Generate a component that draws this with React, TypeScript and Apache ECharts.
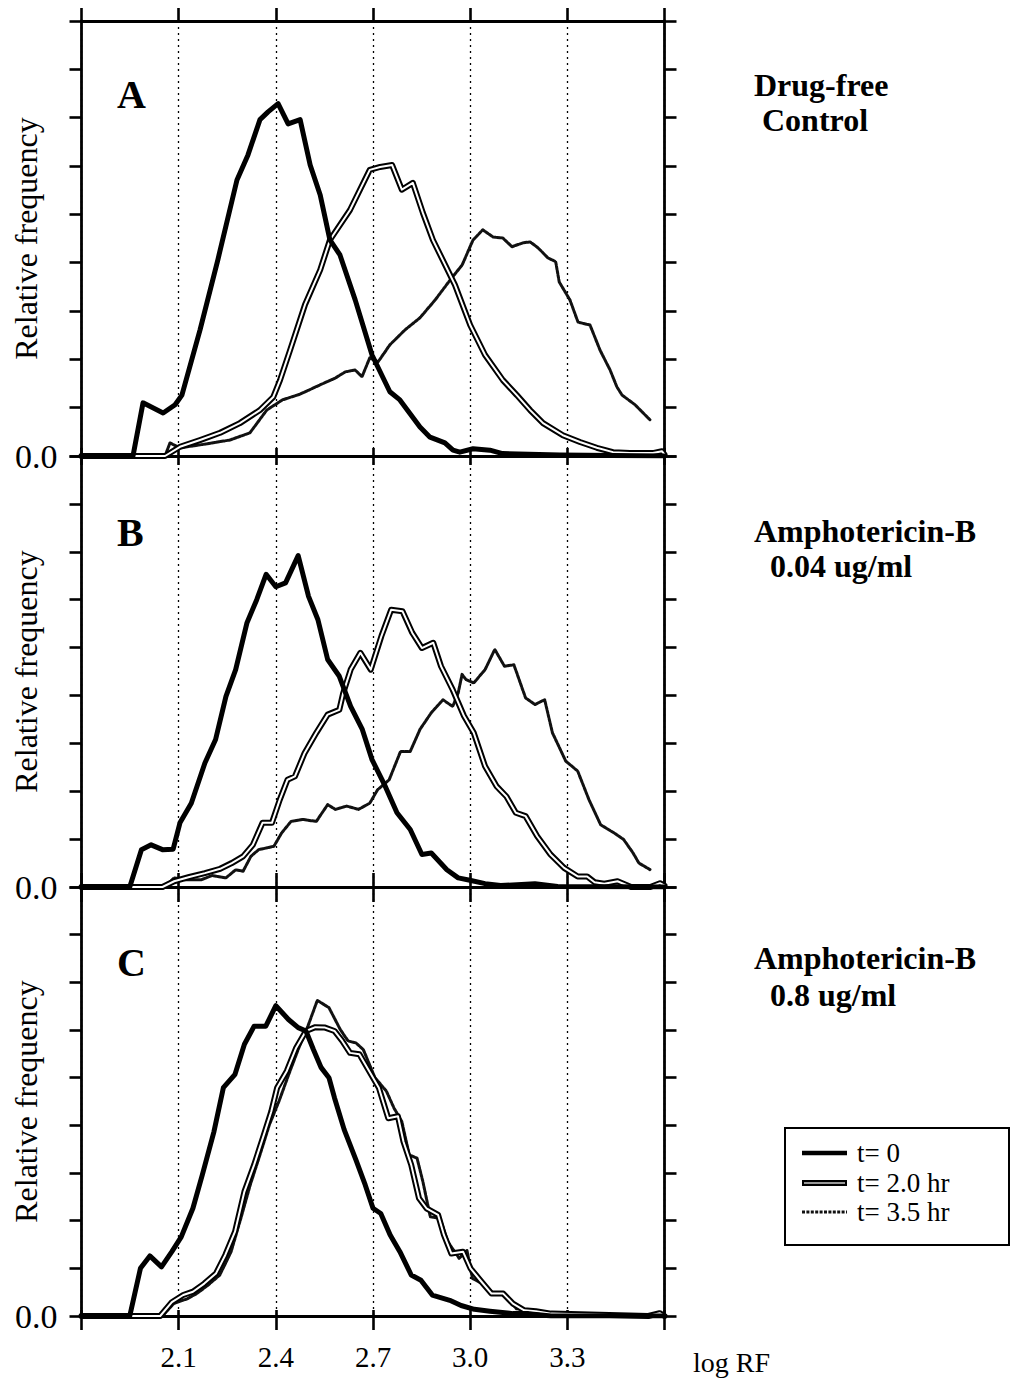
import React, { useEffect, useRef } from "react";
import * as echarts from "echarts";

// ---------- data (x = log RF, y = relative frequency in tick units) ----------
const X_LABELS = ["2.1", "2.4", "2.7", "3.0", "3.3"];
const PANEL_LETTERS = ["A", "B", "C"];
const PANEL_NOTES = [
  ["Drug-free", " Control"],
  ["Amphotericin-B", "  0.04 ug/ml"],
  ["Amphotericin-B", "  0.8 ug/ml"],
];
const LEGEND_NAMES = ["t= 0", "t= 2.0 hr", "t= 3.5 hr"];

const A_T0 = [[1.8,0],[1.959,0],[1.99,1.10],[2.052,0.89],[2.089,1.06],[2.11,1.26],[2.166,2.61],[2.221,4.06],[2.28,5.71],[2.314,6.23],[2.351,6.96],[2.376,7.12],[2.407,7.29],[2.438,6.87],[2.475,6.96],[2.506,6.02],[2.537,5.40],[2.567,4.47],[2.598,4.16],[2.645,3.23],[2.697,2.09],[2.752,1.33],[2.783,1.16],[2.845,0.60],[2.876,0.39],[2.922,0.27],[2.947,0.12],[2.968,0.08],[3.009,0.15],[3.061,0.12],[3.10,0.05],[3.277,0.02],[3.6,0]];
const A_T2 = [[1.8,0],[2.058,0],[2.104,0.19],[2.166,0.33],[2.228,0.48],[2.289,0.68],[2.351,0.95],[2.392,1.22],[2.413,1.57],[2.444,2.19],[2.49,3.13],[2.537,3.85],[2.567,4.47],[2.629,5.09],[2.69,5.92],[2.722,5.98],[2.759,6.02],[2.789,5.51],[2.823,5.65],[2.854,5.03],[2.885,4.47],[2.953,3.54],[3.0,2.71],[3.046,2.09],[3.101,1.57],[3.144,1.26],[3.185,0.95],[3.225,0.68],[3.286,0.43],[3.339,0.29],[3.391,0.17],[3.441,0.08],[3.493,0.06],[3.564,0.06],[3.592,0.1],[3.6,0.03]];
const A_T35 = [[1.8,0],[2.058,0],[2.073,0.27],[2.104,0.17],[2.166,0.23],[2.258,0.33],[2.32,0.48],[2.372,0.95],[2.42,1.16],[2.475,1.28],[2.536,1.47],[2.583,1.61],[2.614,1.74],[2.645,1.78],[2.666,1.64],[2.69,2.03],[2.716,1.95],[2.752,2.30],[2.799,2.61],[2.845,2.86],[2.892,3.23],[2.938,3.64],[2.975,3.95],[3.009,4.47],[3.039,4.68],[3.071,4.53],[3.101,4.51],[3.129,4.33],[3.163,4.41],[3.185,4.43],[3.209,4.31],[3.24,4.10],[3.264,4.02],[3.275,3.6],[3.308,3.23],[3.333,2.77],[3.37,2.71],[3.401,2.19],[3.432,1.78],[3.453,1.43],[3.469,1.26],[3.509,1.06],[3.555,0.75]];

const B_T0 = [[1.8,0],[1.949,0],[1.985,0.78],[2.015,0.88],[2.05,0.78],[2.083,0.79],[2.104,1.34],[2.139,1.75],[2.181,2.59],[2.214,3.08],[2.246,3.98],[2.276,4.54],[2.311,5.52],[2.341,6.0],[2.37,6.53],[2.4,6.27],[2.43,6.35],[2.469,6.92],[2.501,6.07],[2.53,5.58],[2.56,4.75],[2.596,4.40],[2.631,3.77],[2.667,3.29],[2.697,2.66],[2.738,2.10],[2.774,1.55],[2.815,1.20],[2.851,0.68],[2.88,0.71],[2.928,0.36],[2.963,0.19],[2.999,0.14],[3.046,0.07],[3.094,0.03],[3.2,0.07],[3.27,0.01],[3.6,0]];
const B_T2 = [[1.8,0],[2.05,0],[2.086,0.12],[2.133,0.21],[2.181,0.29],[2.228,0.38],[2.264,0.50],[2.299,0.64],[2.329,0.88],[2.359,1.34],[2.388,1.34],[2.412,1.82],[2.436,2.24],[2.459,2.31],[2.489,2.80],[2.525,3.22],[2.56,3.60],[2.596,3.70],[2.608,4.05],[2.631,4.54],[2.661,4.89],[2.693,4.54],[2.726,5.24],[2.756,5.79],[2.791,5.76],[2.821,5.31],[2.851,4.99],[2.886,5.10],[2.91,4.61],[2.946,4.12],[2.981,3.57],[3.011,3.22],[3.046,2.52],[3.082,2.10],[3.112,1.89],[3.141,1.55],[3.171,1.48],[3.207,1.06],[3.248,0.68],[3.29,0.40],[3.332,0.22],[3.361,0.22],[3.384,0.10],[3.414,0.07],[3.455,0.12],[3.497,0],[3.556,0],[3.586,0.08],[3.6,0.03]];
const B_T35 = [[1.8,0],[2.056,0],[2.086,0.19],[2.121,0.15],[2.169,0.15],[2.204,0.24],[2.246,0.19],[2.276,0.36],[2.299,0.33],[2.323,0.64],[2.347,0.78],[2.394,0.85],[2.418,1.13],[2.447,1.37],[2.483,1.41],[2.525,1.37],[2.56,1.72],[2.584,1.62],[2.619,1.69],[2.655,1.62],[2.69,1.75],[2.714,2.03],[2.75,2.24],[2.785,2.83],[2.815,2.83],[2.845,3.29],[2.88,3.64],[2.916,3.91],[2.946,3.77],[2.963,4.05],[2.975,4.44],[2.987,4.33],[3.011,4.26],[3.046,4.54],[3.076,4.96],[3.106,4.61],[3.135,4.64],[3.171,3.95],[3.2,3.81],[3.23,3.91],[3.254,3.22],[3.295,2.63],[3.332,2.42],[3.367,1.82],[3.403,1.30],[3.444,1.13],[3.474,0.99],[3.503,0.71],[3.521,0.50],[3.556,0.36]];

const C_T0 = [[1.8,0],[1.949,0],[1.982,1.0],[2.011,1.26],[2.047,1.03],[2.079,1.35],[2.108,1.66],[2.144,2.26],[2.173,2.96],[2.209,3.87],[2.238,4.79],[2.274,5.07],[2.303,5.70],[2.333,6.08],[2.369,6.08],[2.4,6.51],[2.439,6.22],[2.469,6.05],[2.493,5.98],[2.516,5.59],[2.54,5.21],[2.564,5.0],[2.581,4.58],[2.611,3.91],[2.647,3.28],[2.676,2.75],[2.7,2.26],[2.724,2.15],[2.753,1.70],[2.783,1.35],[2.818,0.86],[2.848,0.75],[2.883,0.44],[2.937,0.33],[2.972,0.22],[3.013,0.14],[3.061,0.10],[3.132,0.05],[3.18,0.05],[3.25,0],[3.6,0]];
const C_T2 = [[1.8,0],[2.043,0],[2.079,0.29],[2.114,0.44],[2.144,0.51],[2.179,0.68],[2.215,0.89],[2.244,1.28],[2.274,1.77],[2.303,2.61],[2.333,3.17],[2.363,3.80],[2.386,4.29],[2.404,4.79],[2.434,5.14],[2.463,5.63],[2.493,5.98],[2.522,6.06],[2.552,6.05],[2.581,5.98],[2.605,5.77],[2.629,5.52],[2.658,5.49],[2.688,5.14],[2.718,4.79],[2.747,4.15],[2.777,4.19],[2.794,3.66],[2.818,3.17],[2.842,2.47],[2.865,2.26],[2.901,2.12],[2.919,1.70],[2.942,1.31],[2.978,1.35],[3.001,1.0],[3.031,0.75],[3.066,0.47],[3.102,0.47],[3.132,0.26],[3.167,0.12],[3.203,0.10],[3.25,0.05],[3.55,0],[3.585,0.06],[3.6,0]];
const C_T35 = [[1.8,0],[2.05,0],[2.085,0.26],[2.126,0.36],[2.156,0.47],[2.191,0.65],[2.227,0.86],[2.262,1.35],[2.292,2.05],[2.321,2.75],[2.351,3.38],[2.38,4.01],[2.41,4.51],[2.44,5.07],[2.469,5.59],[2.499,6.08],[2.528,6.62],[2.564,6.47],[2.599,6.01],[2.623,5.77],[2.647,5.73],[2.67,5.59],[2.706,5.0],[2.741,4.72],[2.765,4.36],[2.789,4.08],[2.812,3.38],[2.836,3.31],[2.854,2.82],[2.877,2.08],[2.907,2.05],[2.931,1.56],[2.966,1.21],[2.99,1.38],[3.007,0.79],[3.037,0.68],[3.073,0.47],[3.108,0.44],[3.143,0.15],[3.191,0.12],[3.24,0.05],[3.3,0],[3.6,0]];

const PANELS = [
  { t0: A_T0, t2: A_T2, t35: A_T35 },
  { t0: B_T0, t2: B_T2, t35: B_T35 },
  { t0: C_T0, t2: C_T2, t35: C_T35 },
];

// ---------- layout ----------
const SERIF = '"Liberation Serif", "Times New Roman", Times, serif';
const GRID_LEFT = 81.5;
const GRID_WIDTH = 583;
const GRID_TOPS = [21, 456, 887];
const GRID_HEIGHTS = [435, 431, 429];

function xAxisDef(gridIndex: number, position: string, inside: boolean, len: number, split: boolean, labels: boolean) {
  return {
    type: "value",
    gridIndex,
    position,
    min: 1.8,
    max: 3.6,
    interval: 0.3,
    axisLine: { show: true, onZero: false, lineStyle: { color: "#000", width: 2.8 } },
    axisTick: { show: true, inside, length: len, lineStyle: { color: "#000", width: 2.6 } },
    axisLabel: {
      show: labels,
      margin: 26,
      color: "#000",
      fontFamily: SERIF,
      fontSize: 29,
      formatter: (v: number) => {
        const s = v.toFixed(1);
        return X_LABELS.includes(s) ? s : "";
      },
    },
    splitLine: { show: split, lineStyle: { color: "#000", width: 1.3, type: [2, 4] } },
  };
}

function yAxisDef(gridIndex: number, position: string, withLabel: boolean) {
  return {
    type: "value",
    gridIndex,
    position,
    min: 0,
    max: 9,
    interval: 1,
    axisLine: { show: true, onZero: false, lineStyle: { color: "#000", width: 2.8 } },
    axisTick: { show: true, inside: false, length: 12, lineStyle: { color: "#000", width: 2.6 } },
    axisLabel: {
      show: withLabel,
      margin: 24,
      color: "#000",
      fontFamily: SERIF,
      fontSize: 34,
      formatter: (v: number) => (v === 0 ? "0.0" : ""),
    },
    splitLine: { show: false },
    name: withLabel ? "Relative frequency" : "",
    nameLocation: "middle",
    nameRotate: 90,
    nameGap: 40,
    nameMoveOverlap: false,
    nameTextStyle: { color: "#000", fontFamily: SERIF, fontSize: 32 },
  };
}

function lineSeries(name: string, data: number[][], xi: number, yi: number, width: number, color: string, z: number, type: any = "solid") {
  return {
    type: "line",
    name,
    data,
    xAxisIndex: xi,
    yAxisIndex: yi,
    showSymbol: false,
    symbol: "none",
    silent: true,
    z,
    lineStyle: { width, color, type, cap: "round", join: "round" },
  };
}

export default function App() {
  const ref = useRef<HTMLDivElement>(null);

  useEffect(() => {
    if (!ref.current) return;
    const chart = echarts.init(ref.current, null, { renderer: "svg" });

    const grid = GRID_TOPS.map((top, i) => ({
      left: GRID_LEFT,
      width: GRID_WIDTH,
      top,
      height: GRID_HEIGHTS[i],
      containLabel: false,
      outerBoundsMode: "none",
    }));

    const xAxis = [
      xAxisDef(0, "top", false, 13, true, false), // 0
      xAxisDef(0, "bottom", true, 8, false, false), // 1
      xAxisDef(1, "top", true, 9, true, false), // 2
      xAxisDef(1, "bottom", true, 14, false, false), // 3
      xAxisDef(2, "top", true, 15, true, false), // 4
      xAxisDef(2, "bottom", false, 14, false, true), // 5
      xAxisDef(2, "bottom", true, 6, false, false), // 6
    ];
    const X_DATA_AXES = [0, 2, 4];

    const yAxis: any[] = [];
    [0, 1, 2].forEach((g) => {
      yAxis.push(yAxisDef(g, "left", true));
      yAxis.push(yAxisDef(g, "right", false));
    });

    const series: any[] = [];
    PANELS.forEach((p, i) => {
      const xi = X_DATA_AXES[i];
      const yi = i * 2;
      series.push(lineSeries(LEGEND_NAMES[2], p.t35, xi, yi, 3, "#111", 3, [3, 1.4]));
      series.push(lineSeries(LEGEND_NAMES[1], p.t2, xi, yi, 6, "#000", 4));
      series.push(lineSeries(LEGEND_NAMES[1] + " ", p.t2, xi, yi, 2, "#fff", 5));
      series.push(lineSeries(LEGEND_NAMES[0], p.t0, xi, yi, 5, "#000", 6));
    });

    const graphic: any[] = [];
    const letterY = [94, 532, 962];
    const noteY = [[85, 120], [531, 566], [958, 995]];
    PANEL_LETTERS.forEach((L, i) => {
      graphic.push({
        type: "text",
        x: 117,
        y: letterY[i],
        style: { text: L, fontFamily: SERIF, fontWeight: "bold", fontSize: 40, fill: "#000", verticalAlign: "middle" },
      });
      PANEL_NOTES[i].forEach((line, j) => {
        graphic.push({
          type: "text",
          x: 754,
          y: noteY[i][j],
          style: {
            text: line,
            fontFamily: SERIF,
            fontWeight: "bold",
            fontSize: 32,
            fill: "#000",
            verticalAlign: "middle",
            textAlign: "left",
          },
        });
      });
    });

    graphic.push({
      type: "text",
      x: 693,
      y: 1362,
      style: { text: "log RF", fontFamily: SERIF, fontSize: 28, fill: "#000", verticalAlign: "middle" },
    });

    // legend box
    const legendRowY = [1153, 1183, 1212];
    graphic.push({
      type: "rect",
      shape: { x: 785, y: 1128, width: 224, height: 117 },
      style: { fill: "#fff", stroke: "#000", lineWidth: 2 },
      z: 10,
    });
    graphic.push({
      type: "line",
      shape: { x1: 802, y1: legendRowY[0], x2: 847, y2: legendRowY[0] },
      style: { stroke: "#000", lineWidth: 4.5 },
      z: 11,
    });
    graphic.push({
      type: "line",
      shape: { x1: 802, y1: legendRowY[1], x2: 847, y2: legendRowY[1] },
      style: { stroke: "#000", lineWidth: 6 },
      z: 11,
    });
    graphic.push({
      type: "line",
      shape: { x1: 804, y1: legendRowY[1], x2: 845, y2: legendRowY[1] },
      style: { stroke: "#999", lineWidth: 2 },
      z: 12,
    });
    graphic.push({
      type: "line",
      shape: { x1: 802, y1: legendRowY[2], x2: 847, y2: legendRowY[2] },
      style: { stroke: "#111", lineWidth: 3, lineDash: [3, 1.4] },
      z: 11,
    });
    LEGEND_NAMES.forEach((n, i) => {
      graphic.push({
        type: "text",
        x: 857,
        y: legendRowY[i],
        z: 12,
        style: { text: n, fontFamily: SERIF, fontSize: 27, fill: "#000", verticalAlign: "middle" },
      });
    });

    chart.setOption({
      animation: false,
      backgroundColor: "#fff",
      grid,
      xAxis,
      yAxis,
      series,
      graphic,
    });

    return () => chart.dispose();
  }, []);

  return (
    <div
      ref={ref}
      style={{ position: "absolute", left: 0, top: 0, width: 1012, height: 1384, background: "#fff" }}
    />
  );
}
